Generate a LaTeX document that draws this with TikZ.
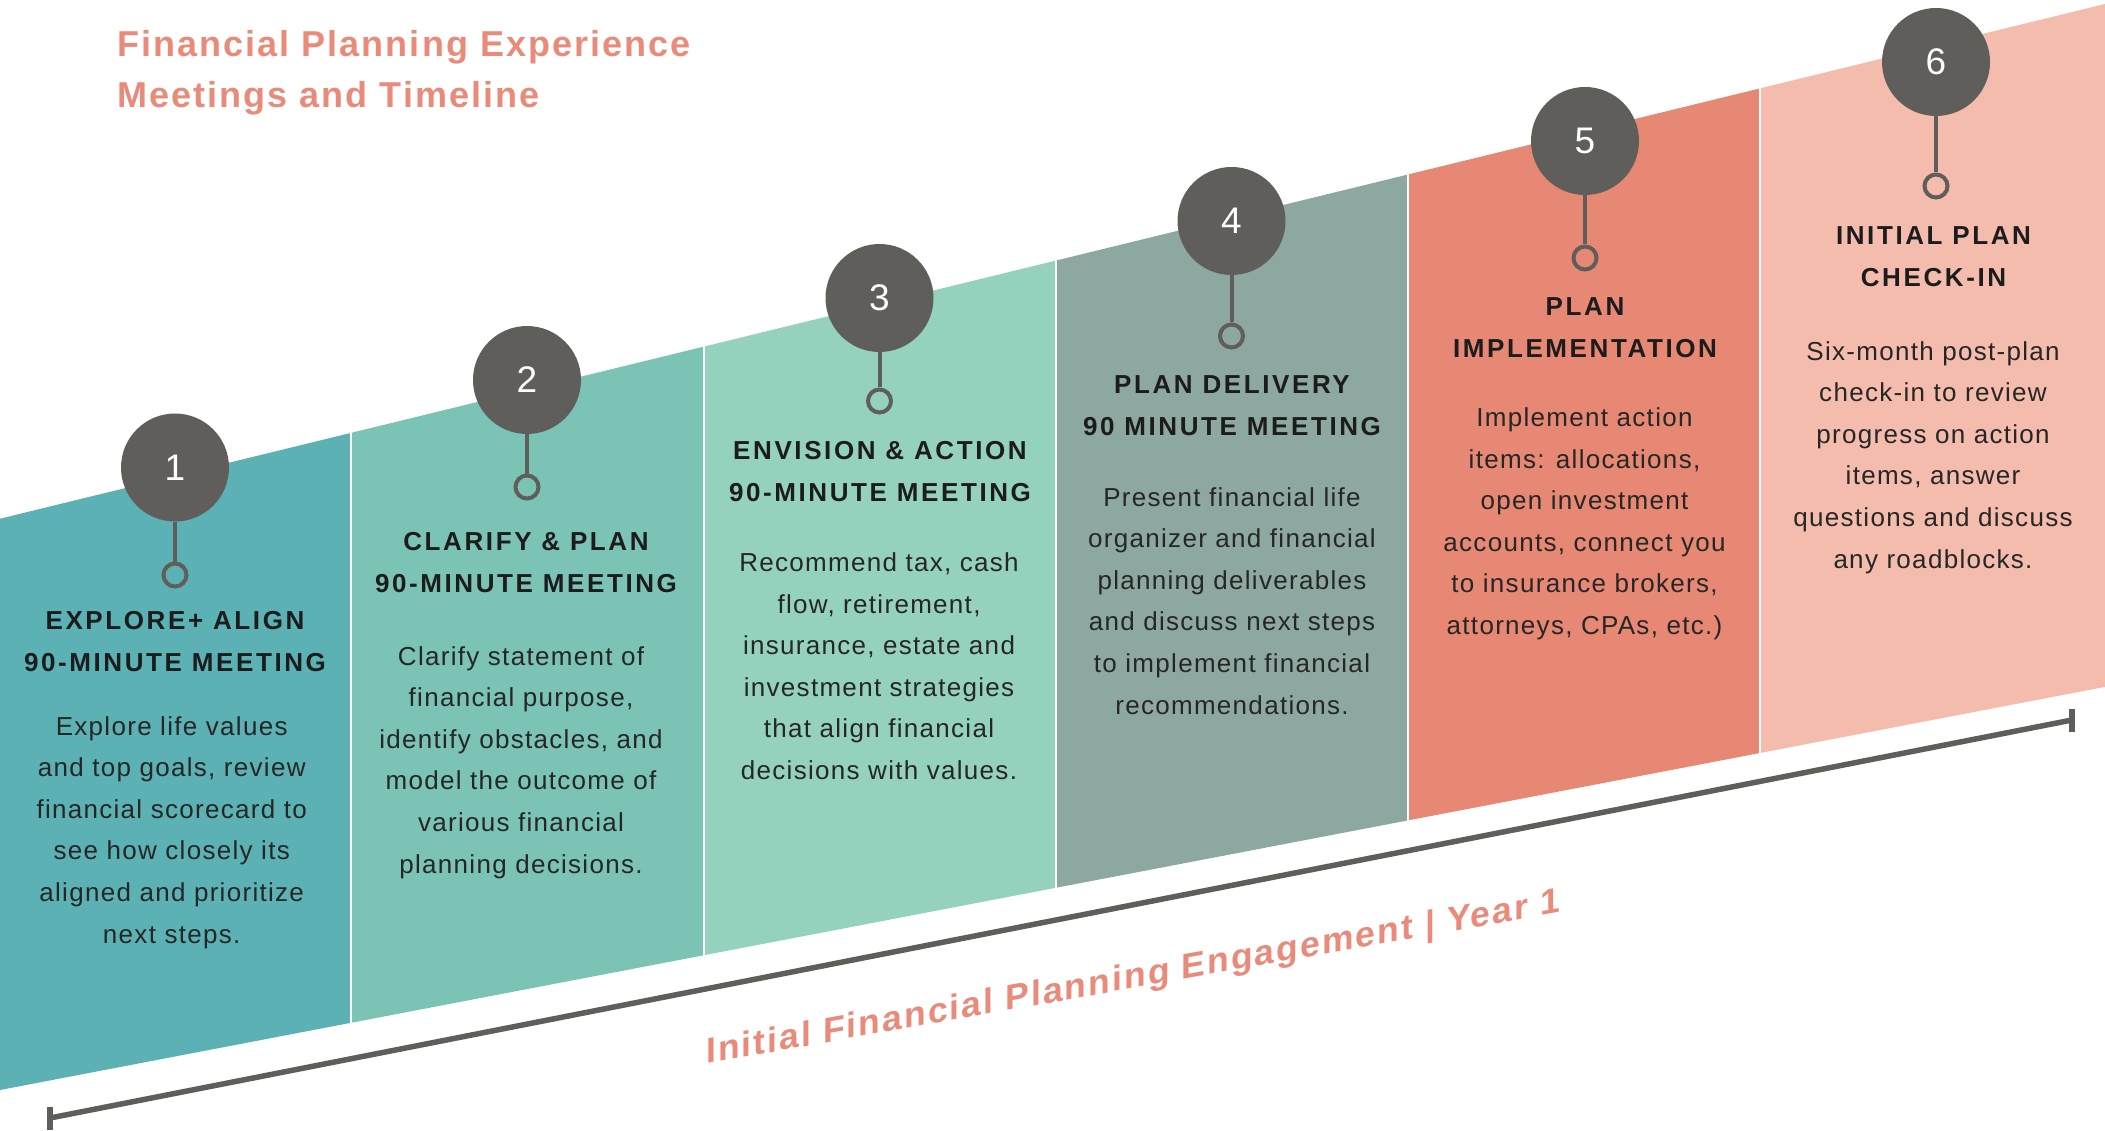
\documentclass[tikz,border=0pt]{standalone}
\usepackage{fontspec}
\setmainfont{Liberation Sans}
\newfontfamily\headfont{Liberation Sans}[LetterSpace=10]
\newfontfamily\bodyfont{Liberation Sans}[LetterSpace=5]
\newfontfamily\titlefont{Liberation Sans}[LetterSpace=5.6]
\newfontfamily\tlfont{Liberation Sans}[LetterSpace=5.8]
\definecolor{cone}{HTML}{5BB1B4}
\definecolor{ctwo}{HTML}{7AC3B5}
\definecolor{cthree}{HTML}{94D2BD}
\definecolor{cfour}{HTML}{8DA8A0}
\definecolor{cfive}{HTML}{E68874}
\definecolor{csix}{HTML}{F4BCAC}
\definecolor{cgrey}{HTML}{5F5E5A}
\definecolor{salmon}{HTML}{E98B7A}
\definecolor{headcol}{HTML}{1C1C1C}
\definecolor{bodycol}{HTML}{262626}
\tikzset{
  numcirc/.style={circle, fill=cgrey, text=white, minimum size=108pt, inner sep=0pt, font=\fontsize{37}{37}\selectfont},
  ring/.style={circle, draw=cgrey, line width=4pt, minimum size=23pt, inner sep=0pt},
  stem/.style={draw=cgrey, line width=4pt},
  sep/.style={draw=white, line width=2pt},
  head/.style={anchor=north, align=center, inner sep=0pt, text=headcol, font=\headfont\bfseries\fontsize{26}{42}\selectfont},
  body/.style={anchor=north, align=center, inner sep=0pt, text=bodycol, font=\bodyfont\fontsize{26}{41.6}\selectfont},
  title/.style={anchor=north west, align=left, inner sep=0pt, text=salmon, font=\titlefont\bfseries\fontsize{36}{51.7}\selectfont},
  tltext/.style={anchor=base west, inner sep=0pt, text=salmon, font=\tlfont\bfseries\fontsize{35.5}{40}\selectfont},
  tline/.style={draw=cgrey, line width=5.5pt},
}
\begin{document}
\begin{tikzpicture}[x=1pt,y=-1pt]
\useasboundingbox (0,0) rectangle (2105,1131);
\fill[white] (0,0) rectangle (2105,1131);
% columns
\fill[cone]   (0,518.7)    -- (351,432.9)  -- (351,1022.8)  -- (0,1090) -- cycle;
\fill[ctwo]   (351,432.9)  -- (703.5,346.7) -- (703.5,955.3) -- (351,1022.8) -- cycle;
\fill[cthree] (703.5,346.7) -- (1055.8,260.6) -- (1055.8,887.8) -- (703.5,955.3) -- cycle;
\fill[cfour]  (1055.8,260.6) -- (1408,174.5) -- (1408,820.4) -- (1055.8,887.8) -- cycle;
\fill[cfive]  (1408,174.5) -- (1760,88.4) -- (1760,753) -- (1408,820.4) -- cycle;
\fill[csix]   (1760,88.4) -- (2105,4.0) -- (2105,686.9) -- (1760,753) -- cycle;
\draw[sep] (351,430) -- (351,1026);
\draw[sep] (703.5,344) -- (703.5,958);
\draw[sep] (1055.8,258) -- (1055.8,891);
\draw[sep] (1408,172) -- (1408,823);
\draw[sep] (1760,86) -- (1760,756);
% title
\node[title] (title) at (117.5,30) {Financial Planning Experience\\Meetings and Timeline};
% circles, rings, stems
\node[numcirc] (c1) at (175,467.5) {1};
\node[numcirc] (c2) at (527,380) {2};
\node[numcirc] (c3) at (879.5,298) {3};
\node[numcirc] (c4) at (1231.5,221) {4};
\node[numcirc] (c5) at (1585,141) {5};
\node[numcirc] (c6) at (1936,62) {6};
\node[ring] (r1) at (175,575) {};
\node[ring] (r2) at (527,487) {};
\node[ring] (r3) at (879.5,401) {};
\node[ring] (r4) at (1231.5,336) {};
\node[ring] (r5) at (1585,258) {};
\node[ring] (r6) at (1936,186) {};
\foreach \i in {1,...,6} { \draw[stem] (c\i.south) -- (r\i.north); }
% headings
\node[head] (h1) at (175,611) {EXPLORE+ ALIGN\\90-MINUTE MEETING};
\node[head] (h2) at (526,532.5) {CLARIFY \& PLAN\\90-MINUTE MEETING};
\node[head] (h3) at (880,441.5) {ENVISION \& ACTION\\90-MINUTE MEETING};
\node[head] (h4) at (1232,375) {PLAN DELIVERY\\90 MINUTE MEETING};
\node[head] (h5) at (1585,297) {PLAN\\IMPLEMENTATION};
\node[head] (h6) at (1933.5,226) {INITIAL PLAN\\CHECK-IN};
% bodies
\node[body] (b1) at (171.7,716) {Explore life values\\and top goals, review\\financial scorecard to\\see how closely its\\aligned and prioritize\\next steps.};
\node[body] (b2) at (521,646) {Clarify statement of\\financial purpose,\\identify obstacles, and\\model the outcome of\\various financial\\planning decisions.};
\node[body] (b3) at (879,552.5) {Recommend tax, cash\\flow, retirement,\\insurance, estate and\\investment strategies\\that align financial\\decisions with values.};
\node[body] (b4) at (1232,487) {Present financial life\\organizer and financial\\planning deliverables\\and discuss next steps\\to implement financial\\recommendations.};
\node[body] (b5) at (1584.5,407.5) {Implement action\\items: allocations,\\open investment\\accounts, connect you\\to insurance brokers,\\attorneys, CPAs, etc.)};
\node[body] (b6) at (1933,341) {Six-month post-plan\\check-in to review\\progress on action\\items, answer\\questions and discuss\\any roadblocks.};
% timeline
\coordinate (tA) at (50,1118);
\coordinate (tB) at (2072,720);
\coordinate (tAu) at (50,1107);
\coordinate (tAd) at (50,1130);
\coordinate (tBu) at (2072,709);
\coordinate (tBd) at (2072,732);
\draw[tline] (tA) -- (tB);
\draw[tline] (tAu) -- (tAd);
\draw[tline] (tBu) -- (tBd);
\node[tltext, yslant=0.1775] (tl) at (706,1064) {Initial Financial Planning Engagement | Year 1};
\end{tikzpicture}
\end{document}
